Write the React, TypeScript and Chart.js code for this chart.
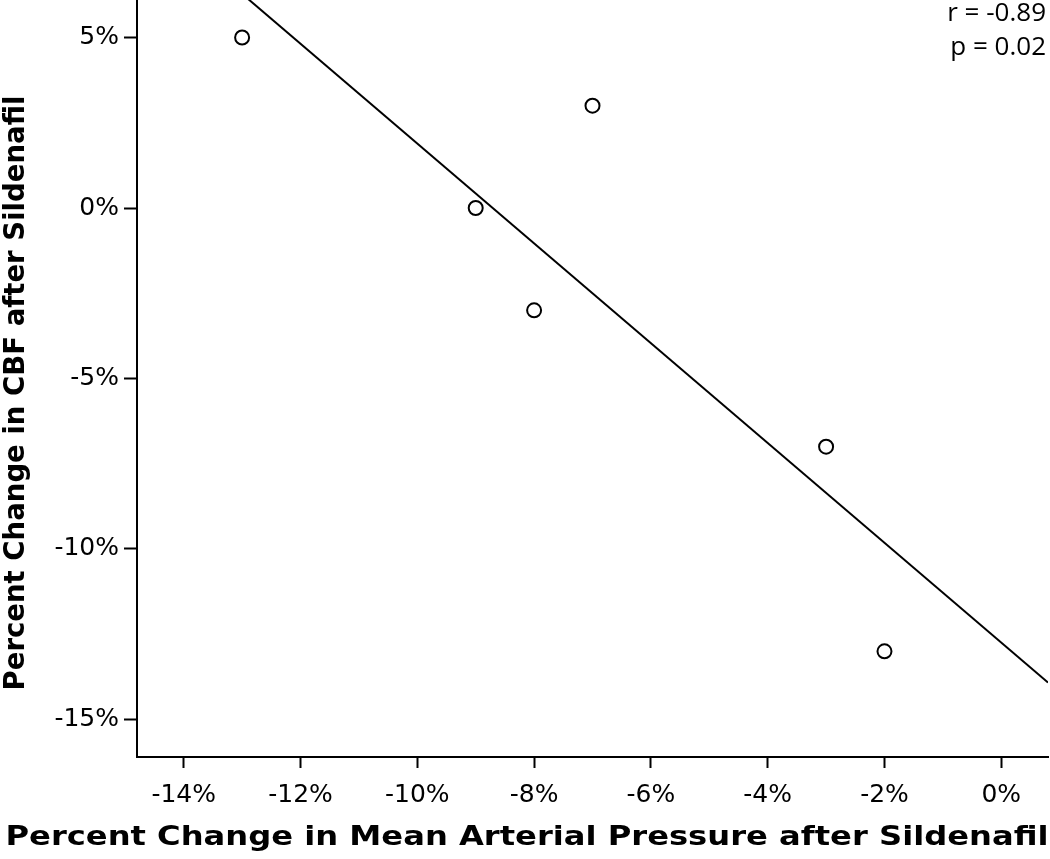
import React, { useEffect, useRef } from "react";
import { Chart, registerables } from "chart.js";

Chart.register(...registerables);

// Data (percent change)
const mapChange: number[] = [-13, -9, -8, -7, -3, -2];
const cbfChange: number[] = [5, 0, -3, 3, -7, -13];
const xTickValues: number[] = [-14, -12, -10, -8, -6, -4, -2, 0];
const yTickValues: number[] = [-15, -10, -5, 0, 5];
const xRange: number[] = [-14.8, 0.8];
const yRange: number[] = [-16.1, 6.1];
const statsLines: string[] = ["r = -0.89", "p = 0.02"];
const xTitle = "Percent Change in Mean Arterial Pressure after Sildenafil";
const yTitle = "Percent Change in CBF after Sildenafil";

function leastSquares(xs: number[], ys: number[]) {
  const n = xs.length;
  const mx = xs.reduce((a, b) => a + b, 0) / n;
  const my = ys.reduce((a, b) => a + b, 0) / n;
  let sxy = 0;
  let sxx = 0;
  for (let i = 0; i < n; i++) {
    sxy += (xs[i] - mx) * (ys[i] - my);
    sxx += (xs[i] - mx) * (xs[i] - mx);
  }
  const slope = sxy / sxx;
  return { slope, intercept: my - slope * mx };
}

const textPlugin = {
  id: "extraText",
  afterDraw(chart: any) {
    const ctx = chart.ctx;
    ctx.save();
    ctx.fillStyle = "#000";
    ctx.font = "26px 'Open Sans'";
    ctx.textAlign = "right";
    ctx.textBaseline = "middle";
    statsLines.forEach((t, i) => {
      ctx.fillText(t, 1046, 14 + i * 34);
    });
    ctx.restore();

    // x-axis title, stretched horizontally like the reference
    ctx.save();
    ctx.fillStyle = "#000";
    ctx.font = "bold 27px 'DejaVu Sans'";
    ctx.textAlign = "center";
    ctx.textBaseline = "middle";
    const w = ctx.measureText(xTitle).width;
    const sx = 1043 / w;
    ctx.translate(527, 838);
    ctx.scale(sx, 1);
    ctx.fillText(xTitle, 0, 0);
    ctx.restore();

    // y-axis title
    ctx.save();
    ctx.fillStyle = "#000";
    ctx.font = "bold 27.5px 'DejaVu Sans'";
    ctx.textAlign = "center";
    ctx.textBaseline = "middle";
    const wy = ctx.measureText(yTitle).width;
    const sy = 595 / wy;
    ctx.translate(17, 393);
    ctx.rotate(-Math.PI / 2);
    ctx.scale(sy, 1);
    ctx.fillText(yTitle, 0, 0);
    ctx.restore();
  },
};

export default function App() {
  const ref = useRef<HTMLCanvasElement | null>(null);

  useEffect(() => {
    if (!ref.current) return;
    const fit = leastSquares(mapChange, cbfChange);
    const lineData = xRange.map((x) => ({ x, y: fit.intercept + fit.slope * x }));
    const points = mapChange.map((x, i) => ({ x, y: cbfChange[i] }));

    const chart = new Chart(ref.current, {
      type: "scatter",
      data: {
        datasets: [
          {
            type: "line",
            data: lineData,
            borderColor: "#000",
            borderWidth: 2,
            pointRadius: 0,
            fill: false,
          } as any,
          {
            data: points,
            pointRadius: 7,
            pointBackgroundColor: "#fff",
            pointBorderColor: "#000",
            pointBorderWidth: 2,
          },
        ],
      },
      options: {
        responsive: false,
        animation: false,
        devicePixelRatio: 1,
        layout: { autoPadding: false, padding: { left: 0, right: 2, top: 0, bottom: 0 } },
        plugins: { legend: { display: false }, tooltip: { enabled: false } },
        scales: {
          x: {
            type: "linear",
            min: xRange[0],
            max: xRange[1],
            afterBuildTicks: (axis: any) => {
              axis.ticks = xTickValues.map((v) => ({ value: v }));
            },
            afterFit: (axis: any) => {
              axis.height = 102;
              axis.paddingLeft = 0;
              axis.paddingRight = 0;
            },
            border: { display: true, color: "#000", width: 2 },
            grid: {
              display: true,
              drawOnChartArea: false,
              drawTicks: true,
              tickLength: 11,
              tickWidth: 2,
              tickColor: "#000",
            },
            ticks: {
              color: "#000",
              font: { family: "DejaVu Sans", size: 25 },
              padding: 12,
              maxRotation: 0,
              callback: (v: any) => `${v}%`,
            },
          },
          y: {
            type: "linear",
            min: yRange[0],
            max: yRange[1],
            afterBuildTicks: (axis: any) => {
              axis.ticks = yTickValues.map((v) => ({ value: v }));
            },
            afterFit: (axis: any) => {
              axis.width = 137;
              axis.paddingTop = 0;
              axis.paddingBottom = 0;
            },
            border: { display: true, color: "#000", width: 2 },
            grid: {
              display: true,
              drawOnChartArea: false,
              drawTicks: true,
              tickLength: 13,
              tickWidth: 2,
              tickColor: "#000",
            },
            ticks: {
              color: "#000",
              font: { family: "DejaVu Sans", size: 25 },
              padding: 5,
              callback: (v: any) => `${v}%`,
            },
          },
        },
      },
      plugins: [textPlugin],
    });
    return () => chart.destroy();
  }, []);

  return (
    <canvas
      ref={ref}
      width={1050}
      height={859}
      style={{ position: "absolute", left: 0, top: 0, display: "block", background: "#fff" }}
    />
  );
}
